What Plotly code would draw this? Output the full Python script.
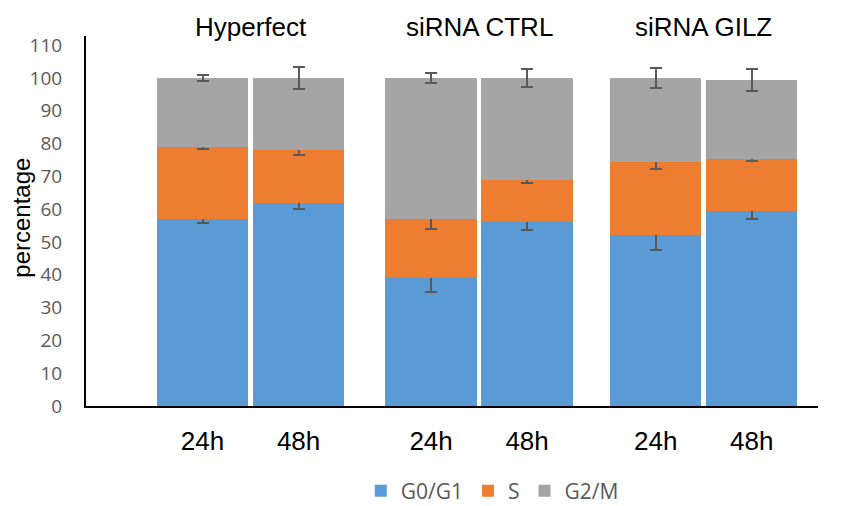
import plotly.graph_objects as go

groups = ["Hyperfect", "siRNA CTRL", "siRNA GILZ"]
times = ["24h", "48h"]
g0g1 = [57, 62, 39, 56, 52, 59.3]
s_phase = [22, 16, 18, 13, 22.5, 16]
g2m = [21, 22, 43, 31, 25.5, 24]
err_g0g1 = [1.3, 1.8, 4.2, 2.2, 4.3, 2.4]
err_s = [0.5, 1.5, 3.0, 0.9, 2.2, 0.7]
err_g2m = [1.0, 3.5, 1.4, 2.7, 3.1, 3.3]

group_step = [0, 2.38, 4.72]
xpos = [g + i for g in group_step for i in range(len(times))]
xlabels = [t for _ in groups for t in times]

colors = ["#5B9BD5", "#ED7D31", "#A5A5A5"]
names = ["G0/G1", "S", "G2/M"]
series = [g0g1, s_phase, g2m]
errs = [err_g0g1, err_s, err_g2m]

fig = go.Figure()
for name, vals, err, col in zip(names, series, errs, colors):
    fig.add_trace(go.Bar(
        x=xpos, y=vals, name=name, width=0.95,
        marker=dict(color=col, line=dict(width=0)),
        error_y=dict(type="data", array=err, visible=True,
                     color="#595959", thickness=2, width=6),
    ))

for gi, g in enumerate(groups):
    cx = group_step[gi] + 0.5
    fig.add_annotation(x=cx, y=1.024, xref="x", yref="paper", text=g,
                       showarrow=False, yanchor="middle",
                       font=dict(family="Liberation Sans, Arial", size=26, color="black"))

fig.add_annotation(x=-0.0874, y=0.509, xref="paper", yref="paper", text="percentage",
                   showarrow=False, textangle=-90, xanchor="center", yanchor="middle",
                   font=dict(family="Liberation Sans, Arial", size=24, color="black"))

fig.update_layout(
    barmode="stack",
    width=846, height=506,
    margin=dict(l=78, r=36, t=28, b=108, autoexpand=False),
    plot_bgcolor="white", paper_bgcolor="white",
    bargap=0,
    legend=dict(orientation="h", x=0.555, xanchor="center", y=-0.2297, yanchor="middle",
                font=dict(family="Open Sans, Lato", size=21, color="#595959"),
                traceorder="normal", itemwidth=30),
    showlegend=True,
)
fig.update_xaxes(
    range=[-1.214, 6.41], tickvals=xpos, ticktext=xlabels,
    showline=True, linecolor="black", linewidth=2,
    ticks="", showgrid=False, zeroline=False, automargin=False,
    tickfont=dict(family="Liberation Sans, Arial", size=26, color="black"),
    ticklabelstandoff=11,
)
fig.update_yaxes(
    range=[0, 112.8], tickvals=list(range(0, 111, 10)),
    showline=True, linecolor="black", linewidth=2,
    ticks="", showgrid=False, zeroline=False, automargin=False,
    tickfont=dict(family="Open Sans, Lato", size=19, color="#595959"),
    ticklabelstandoff=18,
)

fig.write_html("out.html")
